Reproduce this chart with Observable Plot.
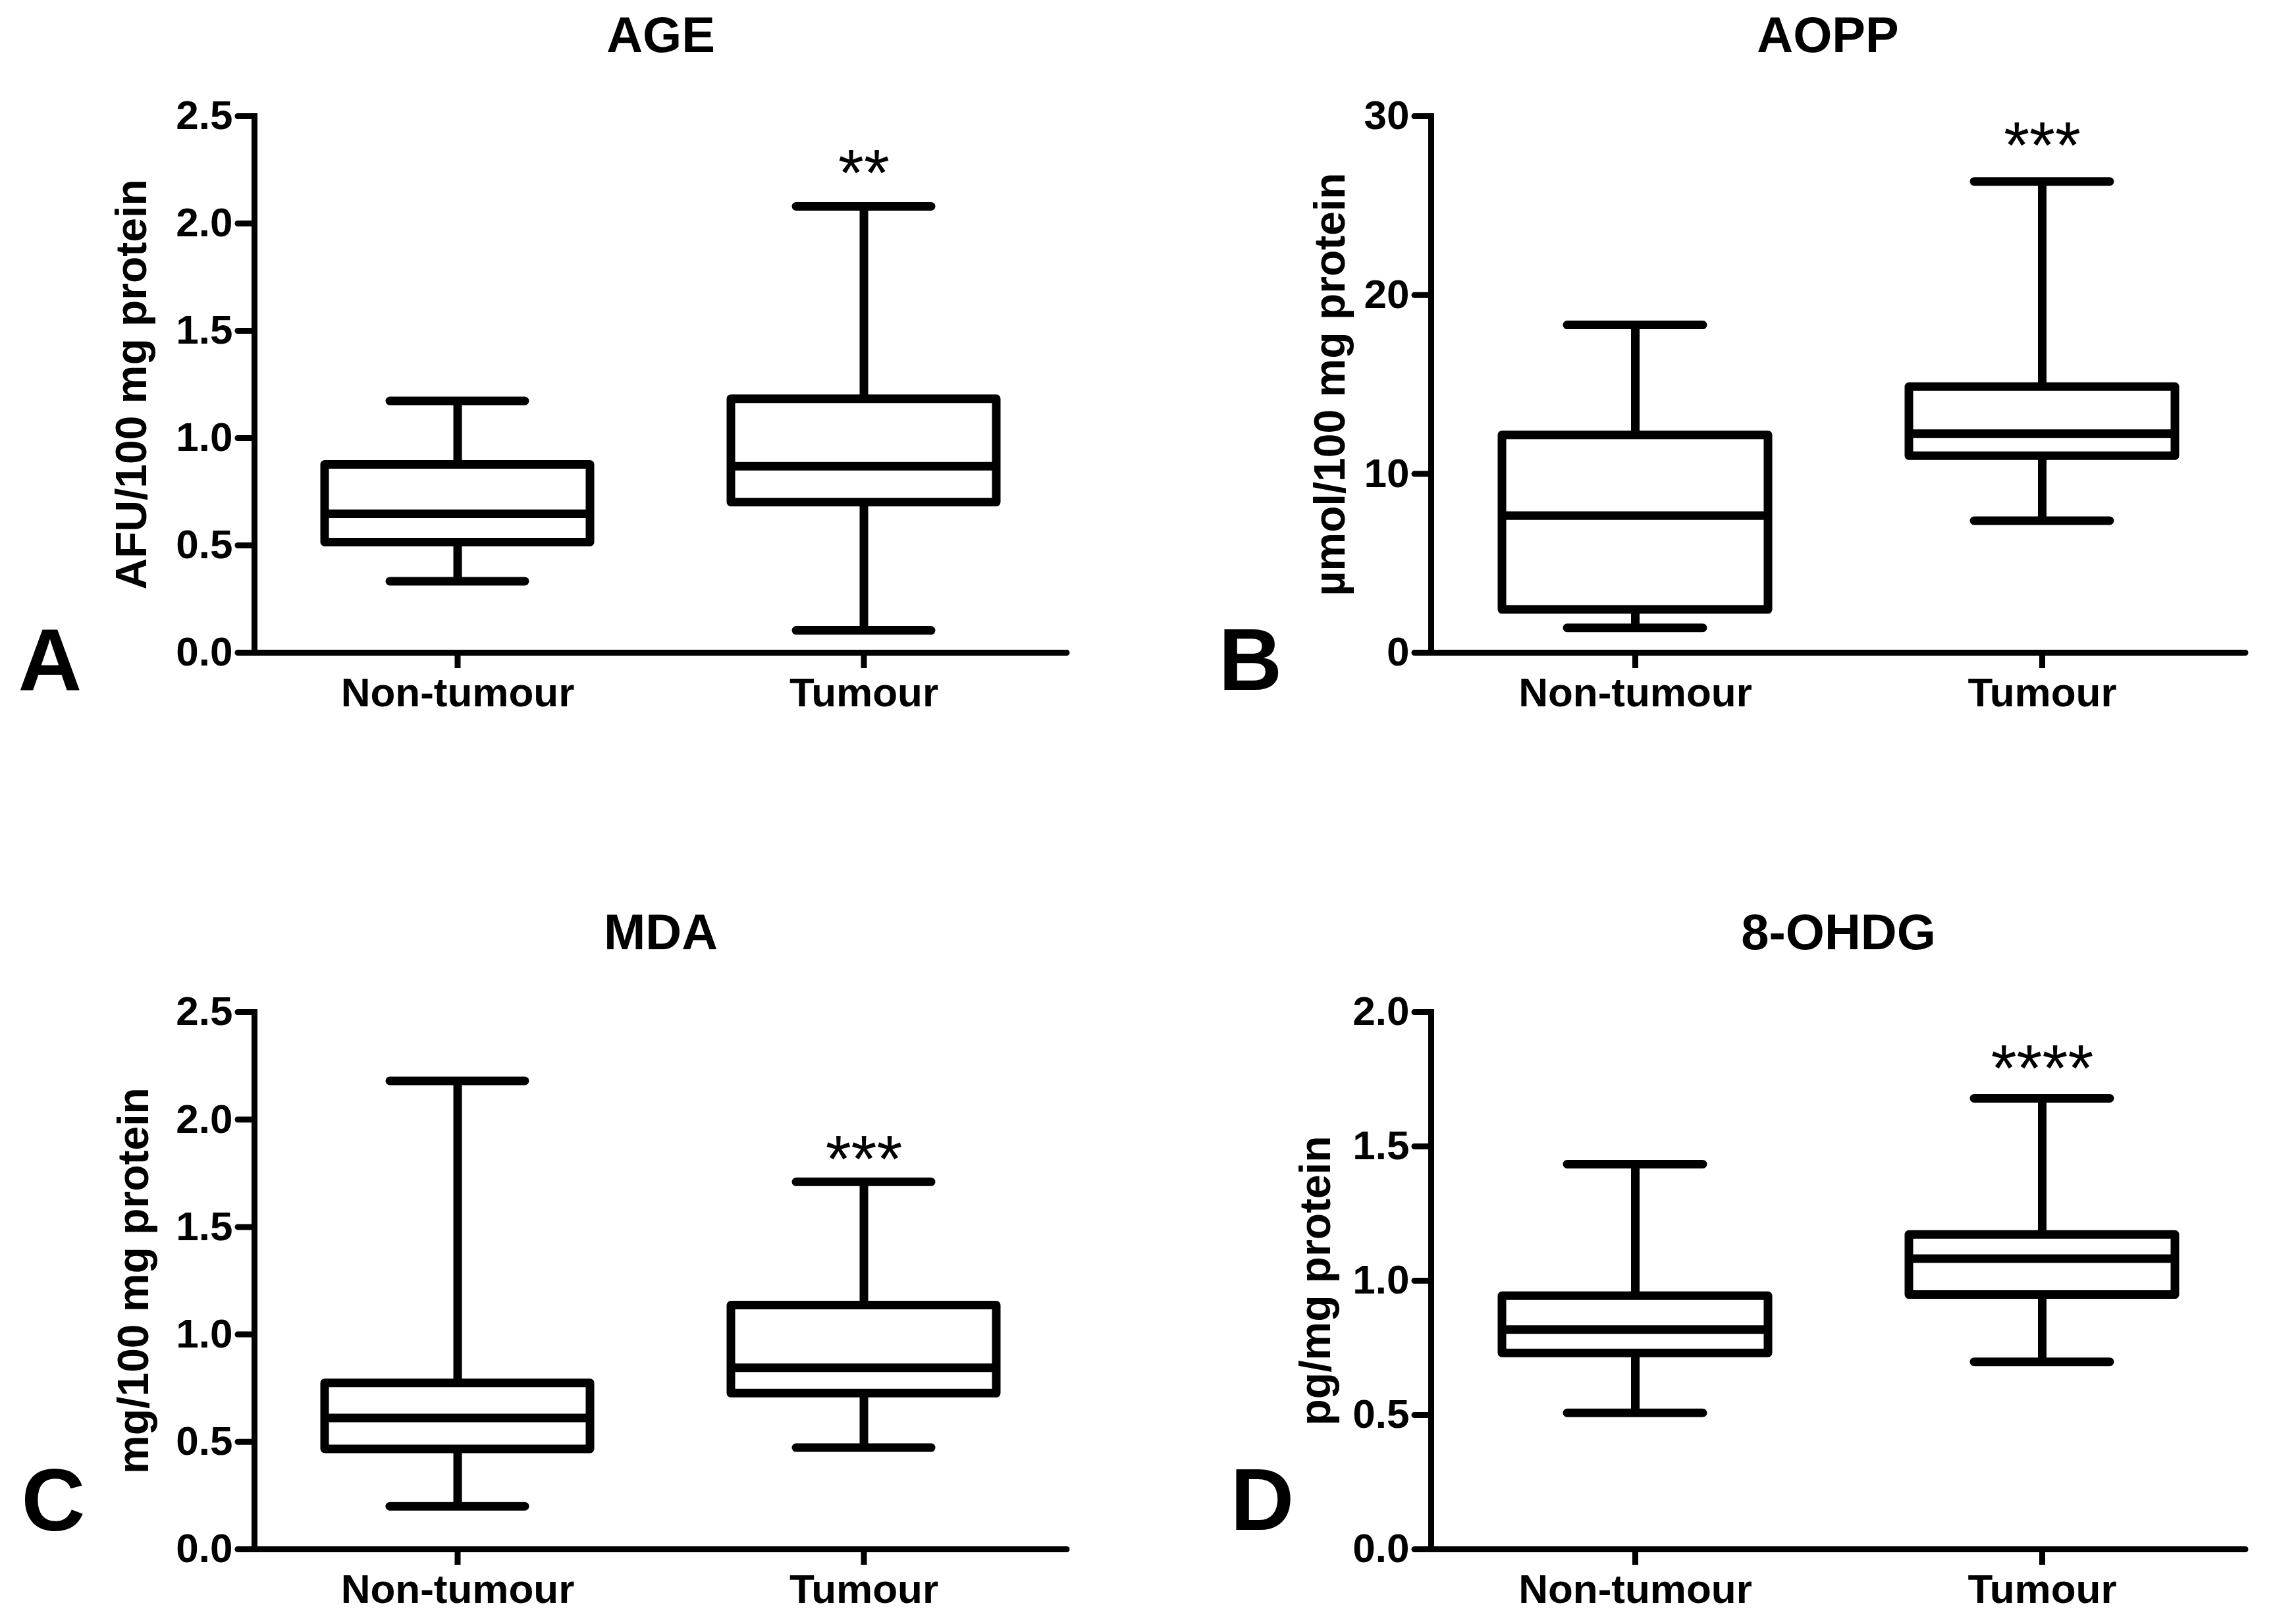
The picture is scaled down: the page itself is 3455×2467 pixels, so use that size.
<!DOCTYPE html>
<html><head><meta charset="utf-8">
<script src="https://cdn.jsdelivr.net/npm/d3@7"></script>
<script src="https://cdn.jsdelivr.net/npm/@observablehq/plot@0.6"></script>
<style>
html,body{margin:0;padding:0;background:#fff;}
#fig{position:relative;width:3455px;height:2467px;background:#fff;overflow:hidden;}
#fig > svg{position:absolute;}
</style></head><body><div id="fig"></div>
<script>
// ---------- data ----------
const groups = ["Non-tumour", "Tumour"];
const panelTitles = ["AGE", "AOPP", "MDA", "8-OHDG"];
const panelLetters = ["A", "B", "C", "D"];
const yLabels = ["AFU/100 mg protein", "µmol/100 mg protein", "mg/100 mg protein", "pg/mg protein"];
const significance = ["**", "***", "***", "****"]; // Tumour vs Non-tumour
const yTicks = [[0, 0.5, 1, 1.5, 2, 2.5], [0, 10, 20, 30], [0, 0.5, 1, 1.5, 2, 2.5], [0, 0.5, 1, 1.5, 2]];
const yTickFormats = [".1f", "d", ".1f", ".1f"];
// box-plot summaries, each entry: [Non-tumour, Tumour]
const whiskerMin = [[0.333, 0.104], [1.39, 7.38], [0.20, 0.473], [0.508, 0.698]];
const quartile1  = [[0.514, 0.70],  [2.40, 11.0], [0.466, 0.725], [0.730, 0.947]];
const medians    = [[0.647, 0.869], [7.67, 12.25], [0.611, 0.845], [0.818, 1.082]];
const quartile3  = [[0.876, 1.182], [12.16, 14.86], [0.773, 1.135], [0.943, 1.171]];
const whiskerMax = [[1.173, 2.08],  [18.33, 26.35], [2.18, 1.71], [1.434, 1.679]];

// ---------- layout (pixels) ----------
const layout = [
  {left: 0,    top: 0,    width: 1727, height: 1234, ml: 386, mr: 107, mt: 176, mb: 243, titleDx: 0,   titleDy: -151, letterDx: -359, letterDy: -38,  ylabDx: -211, starDy: -87},
  {left: 1727, top: 0,    width: 1728, height: 1234, ml: 446, mr: 45,  mt: 176, mb: 243, titleDx: -16, titleDy: -151, letterDx: -323, letterDy: -39,  ylabDx: -178, starDy: -92},
  {left: 0,    top: 1234, width: 1727, height: 1233, ml: 386, mr: 107, mt: 303, mb: 114, titleDx: 0,   titleDy: -149, letterDx: -354, letterDy: -124, ylabDx: -208, starDy: -71},
  {left: 1727, top: 1234, width: 1728, height: 1233, ml: 446, mr: 45,  mt: 303, mb: 114, titleDx: 0,   titleDy: -149, letterDx: -305, letterDy: -125, ylabDx: -200, starDy: -82}
];

const FONT = "'Liberation Sans', Arial, Helvetica, sans-serif";
const fig = document.getElementById("fig");

panelTitles.forEach((title, i) => {
  const L = layout[i];
  const rows = groups.map((g, j) => ({
    group: g,
    min: whiskerMin[i][j], q1: quartile1[i][j], median: medians[i][j],
    q3: quartile3[i][j], max: whiskerMax[i][j],
    sig: j === 1 ? significance[i] : ""
  }));
  const yMax = yTicks[i][yTicks[i].length - 1];
  const svg = Plot.plot({
    width: L.width, height: L.height,
    marginLeft: L.ml, marginRight: L.mr, marginTop: L.mt, marginBottom: L.mb,
    style: {fontFamily: FONT, fontWeight: "bold", fontSize: "62px", color: "black", background: "white"},
    x: {type: "band", domain: groups, padding: 0, axis: null},
    y: {domain: [0, yMax], axis: null},
    marks: [
      // whiskers
      Plot.ruleX(rows, {x: "group", y1: "min", y2: "q1", stroke: "black", strokeWidth: 13}),
      Plot.ruleX(rows, {x: "group", y1: "q3", y2: "max", stroke: "black", strokeWidth: 13}),
      // whisker caps
      Plot.tickY(rows, {x: "group", y: "min", stroke: "black", strokeWidth: 13, strokeLinecap: "round", insetLeft: 206, insetRight: 206}),
      Plot.tickY(rows, {x: "group", y: "max", stroke: "black", strokeWidth: 13, strokeLinecap: "round", insetLeft: 206, insetRight: 206}),
      // boxes
      Plot.barY(rows, {x: "group", y1: "q1", y2: "q3", fill: "white", stroke: "black", strokeWidth: 13, strokeLinejoin: "round", insetLeft: 107, insetRight: 107}),
      // medians
      Plot.tickY(rows, {x: "group", y: "median", stroke: "black", strokeWidth: 13, insetLeft: 107, insetRight: 107}),
      // axes
      Plot.axisY({ticks: yTicks[i], tickFormat: d3.format(yTickFormats[i]), tickSize: 25, tickPadding: 8,
                  strokeWidth: 9, strokeLinecap: "round", fontSize: 62, fontWeight: "bold", label: null}),
      Plot.axisX({tickSize: 24, tickPadding: 13, strokeWidth: 9, fontSize: 62, fontWeight: "bold", label: null}),
      Plot.ruleY([0], {stroke: "black", strokeWidth: 9, strokeLinecap: "round"}),
      Plot.frame({anchor: "left", stroke: "black", strokeWidth: 9}),
      // significance stars
      Plot.text(rows, {x: "group", y: "max", text: "sig", lineAnchor: "top", dy: L.starDy, fontSize: 100, fontWeight: "normal", fill: "black"}),
      // title
      Plot.text([title], {frameAnchor: "top", lineAnchor: "top", dx: L.titleDx, dy: L.titleDy, fontSize: 76, fontWeight: "bold", fill: "black"}),
      // y label
      Plot.text([yLabels[i]], {frameAnchor: "left", rotate: -90, lineAnchor: "top", textAnchor: "middle", dx: L.ylabDx, fontSize: 66, fontWeight: "bold", fill: "black"}),
      // panel letter
      Plot.text([panelLetters[i]], {frameAnchor: "bottom-left", textAnchor: "start", lineAnchor: "top", dx: L.letterDx, dy: L.letterDy, fontSize: 134, fontWeight: "bold", fill: "black"})
    ]
  });
  svg.style.left = L.left + "px";
  svg.style.top = L.top + "px";
  svg.style.maxWidth = "none";
  fig.appendChild(svg);
});
</script>
</body></html>
